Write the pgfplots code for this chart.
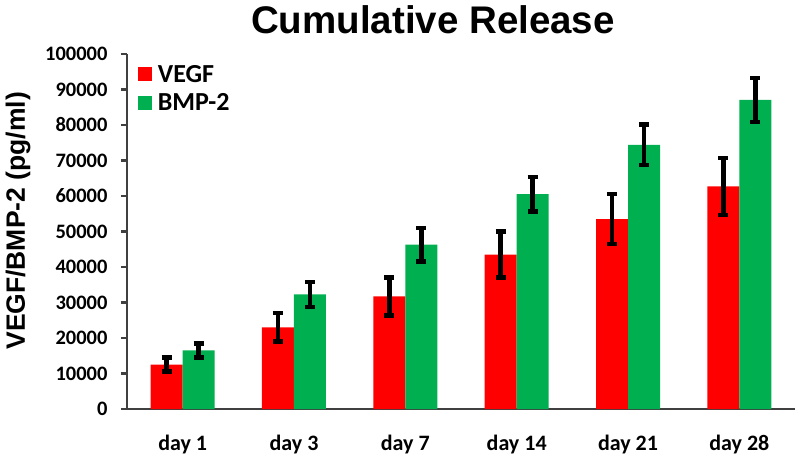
\documentclass[border=0pt]{standalone}
\usepackage{fontspec}
\setmainfont{Carlito}
\newfontfamily\arial{Liberation Sans}
\usepackage{pgfplots}
\pgfplotsset{compat=1.18}
\definecolor{vegf}{HTML}{FF0000}
\definecolor{bmp}{HTML}{00B050}
\definecolor{axgray}{HTML}{404040}
\begin{document}
\begin{tikzpicture}
\useasboundingbox (-127pt,-54pt) rectangle (673pt,409pt);
\begin{axis}[
  scale only axis,
  width=668pt, height=355pt,
  ybar=0pt, bar width=32pt,
  xmin=-0.5, xmax=5.5, ymin=0, ymax=100000,
  axis lines*=left,
  axis line style={axgray, line width=2.5pt},
  tick align=outside,
  tick style={axgray, line width=2.5pt},
  xtick={0,1,2,3,4,5},
  xticklabels={day 1,day 3,day 7,day 14,day 21,day 28},
  x tick style={draw=none},
  extra x ticks={-0.5,0.5,1.5,2.5,3.5,4.5,5.5},
  extra x tick labels={},
  extra x tick style={tick style={axgray, line width=2.5pt}, major tick length=6pt},
  ytick={0,10000,...,100000},
  major tick length=6pt,
  scaled y ticks=false,
  /pgf/number format/fixed,
  /pgf/number format/1000 sep={},
  /pgf/number format/assume math mode=true,
  yticklabel style={font=\bfseries\fontsize{20.5}{20.5}\selectfont, xshift=-10pt},
  xticklabel style={font=\bfseries\fontsize{22}{22}\selectfont, yshift=-17pt},
  ylabel={VEGF/BMP-2 (pg/ml)},
  ylabel style={font=\arial\bfseries\fontsize{26.5}{26.5}\selectfont, at={(axis description cs:-0.163,0.53)}, anchor=center},
  title={Cumulative Release},
  title style={font=\arial\bfseries\fontsize{38.5}{38.5}\selectfont, at={(axis description cs:0.458,1.042)}, anchor=base},
  legend style={at={(axis description cs:0.016,0.975)}, anchor=north west, draw=none, fill=none,
    font=\bfseries\fontsize{26}{26}\selectfont, row sep=6pt, inner sep=0pt, cells={anchor=west},
    /tikz/every even column/.append style={column sep=0pt}},
  legend image code/.code={\fill[#1] (0pt,-7pt) rectangle (14pt,7pt); \path (18pt,0pt);},
  error bars/y dir=both,
  error bars/y explicit,
  error bars/error mark=|,
  error bars/error bar style={black, line width=4.5pt},
  error bars/error mark options={black, line width=4.5pt, mark size=5pt},
]
\addplot[fill=vegf, draw=none] coordinates {
  (0,12500) +- (0,2000)
  (1,23000) +- (0,4000)
  (2,31700) +- (0,5400)
  (3,43500) +- (0,6500)
  (4,53500) +- (0,7000)
  (5,62700) +- (0,8000)
};
\addplot[fill=bmp, draw=none] coordinates {
  (0,16500) +- (0,2000)
  (1,32300) +- (0,3500)
  (2,46300) +- (0,4700)
  (3,60500) +- (0,4800)
  (4,74400) +- (0,5700)
  (5,87100) +- (0,6200)
};
\legend{VEGF,BMP-2}
\end{axis}
\end{tikzpicture}
\end{document}
